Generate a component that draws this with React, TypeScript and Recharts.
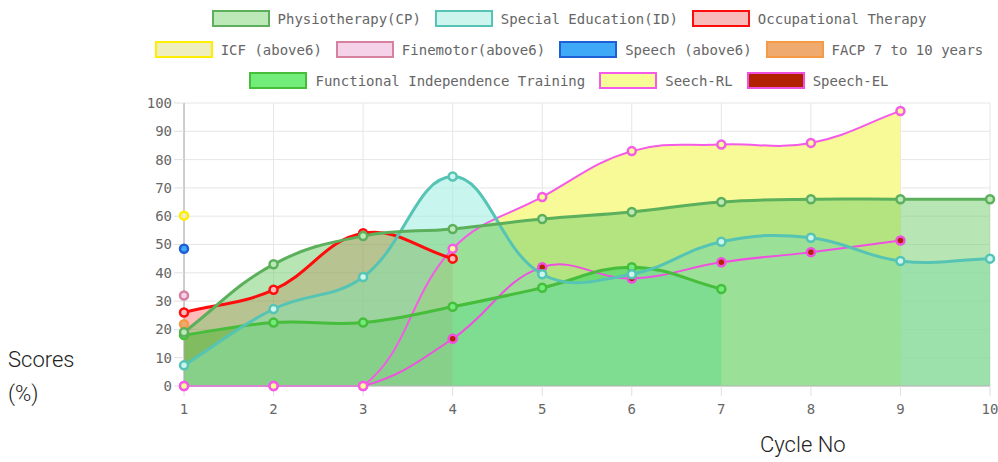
import React from 'react';
import { ComposedChart, Area, Line, XAxis, YAxis, CartesianGrid } from 'recharts';

// ---------- data ----------
const cycles = [1, 2, 3, 4, 5, 6, 7, 8, 9, 10];
const yTicks = [0, 10, 20, 30, 40, 50, 60, 70, 80, 90, 100];

const physiotherapy = [19, 43, 53, 55.5, 59, 61.5, 65, 66, 66, 66];
const specialEducation = [7.3, 27.2, 38.5, 74, 39.5, 39.5, 51, 52.4, 44.2, 45];
const occupational = [26, 34, 54, 45];
const icf = [60.2];
const finemotor = [32];
const speechAbove6 = [48.5];
const facp = [21.8];
const functionalIndependence = [18, 22.4, 22.4, 28, 34.7, 42, 34.3];
const seechRL = [0, 0, 0, 48.5, 66.8, 83, 85.3, 85.9, 97.2];
const speechEL = [0, 0, 0, 16.7, 42, 38, 43.7, 47.3, 51.4];

type Series = {
  key: string;
  label: string;
  values: number[];
  stroke: string;
  fill: string;
  fillOpacity: number;
  area: boolean;
  width: number;
  legendFill: string;
};

const series: Series[] = [
  { key: 'physio', label: 'Physiotherapy(CP)', values: physiotherapy, stroke: '#5cb05c', fill: 'rgb(111,205,105)', fillOpacity: 0.5, area: true, width: 3, legendFill: '#bde8b8' },
  { key: 'sped', label: 'Special Education(ID)', values: specialEducation, stroke: '#55c4b4', fill: 'rgb(163,238,227)', fillOpacity: 0.6, area: true, width: 3, legendFill: '#ccf5ee' },
  { key: 'occ', label: 'Occupational Therapy', values: occupational, stroke: '#ff0d0d', fill: 'rgb(255,0,0)', fillOpacity: 0.27, area: true, width: 3, legendFill: '#f9baba' },
  { key: 'icf', label: 'ICF (above6)', values: icf, stroke: '#ffee00', fill: 'rgb(200,200,50)', fillOpacity: 0.3, area: false, width: 3, legendFill: '#efeebf' },
  { key: 'fine', label: 'Finemotor(above6)', values: finemotor, stroke: '#d6819f', fill: 'rgb(235,160,210)', fillOpacity: 0.45, area: false, width: 3, legendFill: '#f5d2e8' },
  { key: 'speech', label: 'Speech (above6)', values: speechAbove6, stroke: '#1f5fd6', fill: 'rgb(60,170,250)', fillOpacity: 1, area: false, width: 3, legendFill: '#3ea9f6' },
  { key: 'facp', label: 'FACP 7 to 10 years', values: facp, stroke: '#f59a45', fill: 'rgb(240,170,110)', fillOpacity: 1, area: false, width: 3, legendFill: '#efaa70' },
  { key: 'fit', label: 'Functional Independence Training', values: functionalIndependence, stroke: '#47bd3c', fill: 'rgb(110,235,120)', fillOpacity: 1, area: true, width: 3, legendFill: '#72ed7a' },
  { key: 'rl', label: 'Seech-RL', values: seechRL, stroke: '#f55ae8', fill: 'rgb(247,250,150)', fillOpacity: 1, area: true, width: 2, legendFill: '#f6fc96' },
  { key: 'el', label: 'Speech-EL', values: speechEL, stroke: '#f050e0', fill: 'rgb(178,34,0)', fillOpacity: 1, area: false, width: 2, legendFill: '#b22200' },
];

const data = cycles.map((x, i) => {
  const row: Record<string, number | undefined> = { x };
  series.forEach((s) => {
    row[s.key] = s.values[i];
  });
  return row;
});

// ---------- layout ----------
const W = 998;
const H = 462;
const MARGIN = { top: 103, right: 8, bottom: 46, left: 144 };
const Y_AXIS_W = 40;
const X_AXIS_H = 30;
const PLOT = {
  left: MARGIN.left + Y_AXIS_W,
  right: W - MARGIN.right,
  top: MARGIN.top,
  bottom: H - MARGIN.bottom - X_AXIS_H,
};

// Chart.js-like spline (tension 0.4, control points capped to chart area)
function chartJsCurve(tension: number) {
  const cap = (v: number, lo: number, hi: number) => Math.max(Math.min(v, hi), lo);
  return (context: any) => {
    let pts: [number, number][] = [];
    let line = NaN;
    return {
      areaStart() {
        line = 0;
      },
      areaEnd() {
        line = NaN;
      },
      lineStart() {
        pts = [];
      },
      point(x: number, y: number) {
        pts.push([+x, +y]);
      },
      lineEnd() {
        const n = pts.length;
        if (n > 0) {
          const cps = pts.map((p, i) => {
            const prev = pts[i - 1] || p;
            const next = pts[i + 1] || p;
            const d01 = Math.hypot(p[0] - prev[0], p[1] - prev[1]);
            const d12 = Math.hypot(next[0] - p[0], next[1] - p[1]);
            let s01 = d01 / (d01 + d12);
            let s12 = d12 / (d01 + d12);
            if (!isFinite(s01)) s01 = 0;
            if (!isFinite(s12)) s12 = 0;
            const fa = tension * s01;
            const fb = tension * s12;
            return {
              px: cap(p[0] - fa * (next[0] - prev[0]), PLOT.left, PLOT.right),
              py: cap(p[1] - fa * (next[1] - prev[1]), PLOT.top, PLOT.bottom),
              nx: cap(p[0] + fb * (next[0] - prev[0]), PLOT.left, PLOT.right),
              ny: cap(p[1] + fb * (next[1] - prev[1]), PLOT.top, PLOT.bottom),
            };
          });
          if (line) context.lineTo(pts[0][0], pts[0][1]);
          else context.moveTo(pts[0][0], pts[0][1]);
          for (let i = 1; i < n; i++) {
            context.bezierCurveTo(cps[i - 1].nx, cps[i - 1].ny, cps[i].px, cps[i].py, pts[i][0], pts[i][1]);
          }
        }
        if (line || (line !== 0 && n === 1)) context.closePath();
        line = 1 - line;
      },
    };
  };
}

const curve = chartJsCurve(0.4) as any;

const MONO = '"DejaVu Sans Mono", monospace';
const tickStyle = { fontFamily: MONO, fontSize: 14, fill: '#666' };

function Legend() {
  return (
    <div
      style={{
        position: 'absolute',
        left: 140,
        top: 3,
        width: 858,
        display: 'flex',
        flexWrap: 'wrap',
        justifyContent: 'center',
        columnGap: 14,
      }}
    >
      {series.map((s) => (
        <div key={s.key} style={{ display: 'flex', alignItems: 'center', height: 31 }}>
          <div
            style={{
              width: 58,
              height: 17,
              boxSizing: 'border-box',
              border: `2px solid ${s.stroke}`,
              background: s.legendFill,
              marginRight: 8,
            }}
          />
          <span style={{ fontFamily: MONO, fontSize: 14, color: '#666', whiteSpace: 'pre' }}>{s.label}</span>
        </div>
      ))}
    </div>
  );
}

export default function App() {
  const reversed = [...series].reverse();
  return (
    <div style={{ position: 'absolute', left: 0, top: 0, width: W, height: H, background: '#fff' }}>
      <Legend />
      <ComposedChart width={W} height={H} data={data} margin={MARGIN}>
        <CartesianGrid stroke="#e6e6e6" strokeWidth={1} />
        <XAxis
          dataKey="x"
          type="number"
          domain={[1, 10]}
          ticks={cycles}
          interval={0}
          height={X_AXIS_H}
          tick={tickStyle}
          tickSize={10}
          tickMargin={8}
          tickLine={{ stroke: '#e0e0e0' }}
          axisLine={{ stroke: '#b5b5b5' }}
        />
        <YAxis
          type="number"
          domain={[0, 100]}
          ticks={yTicks}
          interval={0}
          width={Y_AXIS_W}
          tick={tickStyle}
          tickSize={10}
          tickMargin={2}
          tickLine={{ stroke: '#e0e0e0' }}
          axisLine={{ stroke: '#a8a8a8' }}
        />
        {reversed
          .filter((s) => s.area)
          .map((s) => (
            <Area
              key={'a-' + s.key}
              dataKey={s.key}
              type={curve}
              stroke="none"
              fill={s.fill}
              fillOpacity={s.fillOpacity}
              dot={false}
              activeDot={false}
              isAnimationActive={false}
              baseValue={0}
            />
          ))}
        {reversed.map((s) => (
          <Line
            key={'l-' + s.key}
            dataKey={s.key}
            type={curve}
            stroke={s.stroke}
            strokeWidth={s.width}
            dot={{ r: 4, stroke: s.stroke, strokeWidth: 2.5, fill: s.legendFill, fillOpacity: 1 }}
            activeDot={false}
            isAnimationActive={false}
          />
        ))}
      </ComposedChart>
      <div
        style={{
          position: 'absolute',
          left: 8,
          top: 343,
          fontFamily: 'Roboto, sans-serif',
          fontWeight: 300,
          fontSize: 22,
          lineHeight: '34px',
          color: '#222',
        }}
      >
        Scores
        <br />
        (%)
      </div>
      <div
        style={{
          position: 'absolute',
          left: 760,
          top: 434,
          fontFamily: 'Roboto, sans-serif',
          fontWeight: 300,
          fontSize: 22,
          lineHeight: '22px',
          color: '#222',
          whiteSpace: 'nowrap',
        }}
      >
        Cycle No
      </div>
    </div>
  );
}
